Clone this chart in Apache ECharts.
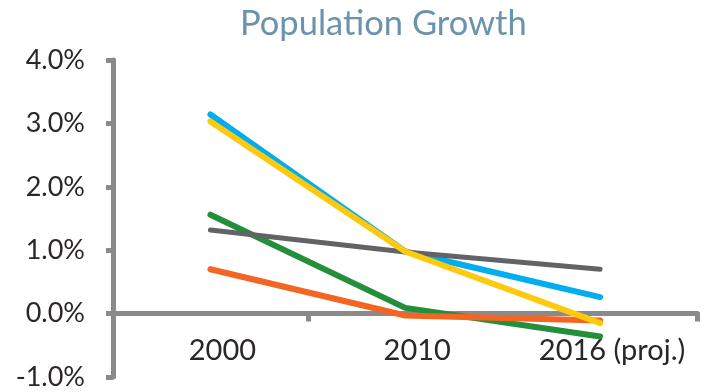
<!DOCTYPE html>
<html>
<head>
<meta charset="utf-8">
<script src="https://cdn.jsdelivr.net/npm/echarts@6/dist/echarts.min.js"></script>
<style>
  html, body { margin: 0; padding: 0; background: #fff; }
  #chart { width: 711px; height: 392px; }
</style>
</head>
<body>
<div id="chart"></div>
<script>
// Annual population growth rate (%), by year
const years = ['2000', '2010', '2016 (proj.)'];
const blueSeries   = [3.14, 0.98, 0.26];
const greenSeries  = [1.56, 0.09, -0.36];
const graySeries   = [1.32, 0.97, 0.70];
const orangeSeries = [0.70, -0.03, -0.11];
const yellowSeries = [3.03, 0.98, -0.15];
const yTicks = { min: -1, max: 4, step: 1 };

const FONT = 'Lato, "Open Sans", sans-serif';
const AXIS_GREY = '#8a8a8a';

function line(data, color, width) {
  return {
    type: 'line',
    data: data,
    showSymbol: false,
    symbol: 'none',
    animation: false,
    lineStyle: { color: color, width: width, cap: 'round', join: 'round' }
  };
}

const chart = echarts.init(document.getElementById('chart'), null, { renderer: 'canvas' });
chart.setOption({
  backgroundColor: '#ffffff',
  animation: false,
  title: {
    text: 'Population Growth',
    left: 235,
    top: 1,
    textStyle: { color: '#6b93ab', fontFamily: FONT, fontWeight: 'normal', fontSize: 34.5 }
  },
  grid: { left: 113, right: 13.5, top: 60, bottom: 15, containLabel: false, outerBoundsMode: 'none' },
  xAxis: {
    type: 'category',
    data: years,
    boundaryGap: true,
    axisLine: { onZero: true, lineStyle: { color: AXIS_GREY, width: 5 } },
    axisTick: { show: true, length: 8, lineStyle: { color: AXIS_GREY, width: 5 } },
    // labels sit just under the zero line, nudged a little to the right
    axisLabel: { color: '#2b2728', fontFamily: FONT, fontSize: 29, margin: -41, padding: [0, 0, 0, 24] },
    splitLine: { show: false }
  },
  yAxis: {
    type: 'value',
    min: yTicks.min,
    max: yTicks.max,
    interval: yTicks.step,
    axisLine: { show: true, lineStyle: { color: AXIS_GREY, width: 5 } },
    axisTick: { show: true, length: 7, lineStyle: { color: AXIS_GREY, width: 5 } },
    axisLabel: {
      color: '#2b2728', fontFamily: FONT, fontSize: 27, margin: 28,
      formatter: v => v.toFixed(1) + '%'
    },
    splitLine: { show: false }
  },
  series: [
    line(blueSeries, '#00aeef', 6),
    line(greenSeries, '#248f3a', 6),
    line(graySeries, '#636366', 5),
    line(orangeSeries, '#f26522', 6),
    line(yellowSeries, '#fdca0f', 6)
  ]
});
</script>
</body>
</html>
